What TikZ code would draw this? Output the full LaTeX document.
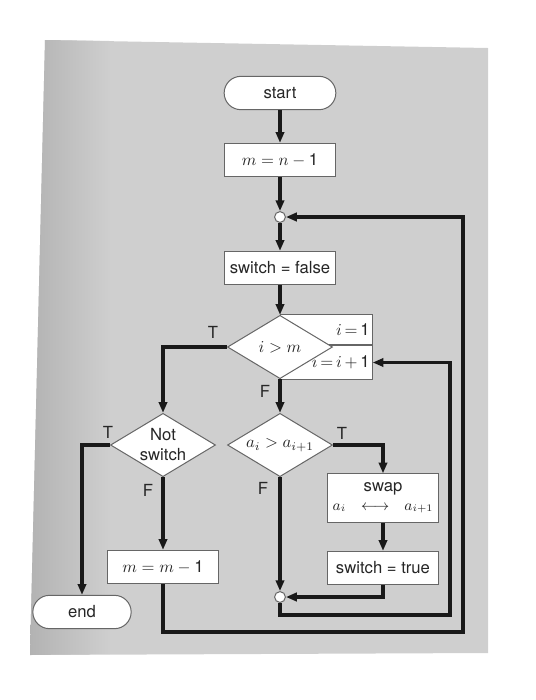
\documentclass[tikz,border=0pt]{standalone}
\usepackage{fontspec}
\setmainfont{TeX Gyre Heros}
\usetikzlibrary{shapes.geometric, arrows.meta, positioning}

\begin{document}
\begin{tikzpicture}[x=0.6pt, y=-0.6pt, >={Triangle[length=6.5pt,width=5pt]},
  box/.style={draw=black!60, fill=white, line width=0.6pt, text=black!85,
              minimum width=67pt, minimum height=20pt, inner sep=2pt, align=center},
  term/.style={box, rounded corners=10pt},
  test/.style={diamond, draw=black!60, fill=white, line width=0.6pt, text=black!85,
               minimum width=63pt, minimum height=38pt, inner sep=0pt,
               shape aspect=1.65, align=center},
  joint/.style={circle, draw=black!60, fill=white, line width=0.6pt,
                minimum size=6.5pt, inner sep=0pt},
  flow/.style={->, line width=2.1pt, black!90},
  tf/.style={text=black!85}]

  \useasboundingbox (0,0) rectangle (536,700);

  % page
  \fill[black!19] (45,40) -- (488,48) -- (488,653) -- (30,655) -- cycle;
  \shade[left color=black!30, right color=black!19]
        (45,40) -- (110,41) -- (110,654) -- (30,655) -- cycle;

  % main column
  \node[term] (start) at (280,93) {start};
  \node[box] (setm) at (280,160) {$m = n - \mbox{1}$};
  \node[joint] (jtop) at (280,217) {};
  \node[box] (clear) at (280,268) {switch = false};

  % counter box behind the first test
  \node[box, minimum width=55pt, minimum height=18pt, inner xsep=1.5pt,
        text width=52pt, align=right, anchor=south west] (init) at (280,345)
        {$i\,{=}\,\mbox{1}$};
  \node[box, minimum width=55pt, minimum height=20.4pt, inner xsep=1.5pt,
        text width=52pt, align=right, anchor=north west] (inc) at (280,345)
        {$i\,{=}\,i\,{+}\,\mbox{1}$};
  \node[test] (cmp) at (280,347) {$i > m$};

  % tests
  \node[test] (swaptest) at (280,445) {$a_i > a_{i+1}$};
  \node[test] (notsw) at (163,445) {Not\\switch};

  % left branch
  \node[box] (decm) at (163,567) {$m = m - \mbox{1}$};
  \node[term, minimum width=59pt] (stop) at (82,612) {end};

  % right branch
  \node[box, minimum height=29pt] (swap) at (383,498)
        {swap\\[-1pt]{\small$a_i$\quad$\longleftrightarrow$\quad$a_{i+1}$}};
  \node[box] (settrue) at (383,568) {switch = true};
  \node[joint] (jbot) at (280,597) {};

  \coordinate (inner) at (450,615);
  \coordinate (outer) at (463,632);

  % flow lines
  \draw[flow] (start) -- (setm);
  \draw[flow] (setm) -- (jtop);
  \draw[flow] (jtop) -- (clear);
  \draw[flow] (clear) -- (cmp);
  \draw[flow] (cmp.west) -| (notsw.north);
  \draw[flow] (cmp.south) -- (swaptest.north);
  \draw[flow] (notsw.west) -| (stop.north);
  \draw[flow] (notsw.south) -- (decm.north);
  \draw[flow] (swaptest.east) -| (swap.north);
  \draw[flow] (swaptest.south) -- (jbot.north);
  \draw[flow] (swap) -- (settrue);
  \draw[flow] (settrue.south) |- (jbot.east);
  \draw[flow] (jbot.south) |- (inner) |- (inc.east);
  \draw[flow] (decm.south) |- (outer) |- (jtop.east);

  % branch labels
  \node[tf] (t1) at (213,332) {T};
  \node[tf] (f1) at (265,391) {F};
  \node[tf] (t2) at (342,433) {T};
  \node[tf] (f2) at (263,488) {F};
  \node[tf] (t3) at (108,432) {T};
  \node[tf] (f3) at (148,490) {F};
\end{tikzpicture}
\end{document}
